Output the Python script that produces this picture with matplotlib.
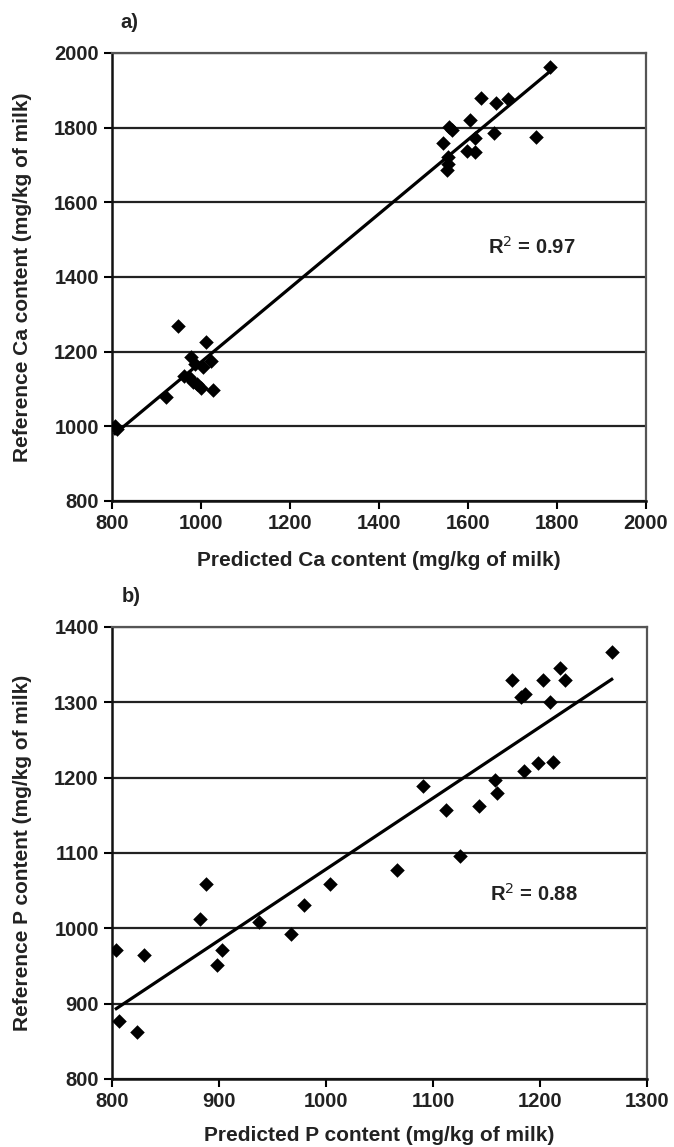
import matplotlib.pyplot as plt
import numpy as np

plt.rcParams['font.family'] = ['Liberation Sans', 'DejaVu Sans']

# Panel a: Ca (mg/kg of milk)
ca_pred = [1784, 1629, 1663, 1691, 1605, 1558, 1563, 1658, 1544, 1615, 1753,
           1597, 1615, 1554, 1556, 1552,
           949, 1012, 977, 987, 1004, 1022, 962, 973, 981, 992, 1000, 1028,
           921, 807, 812]
ca_ref = [1963, 1879, 1866, 1878, 1821, 1802, 1794, 1787, 1758, 1772, 1775,
          1737, 1734, 1722, 1703, 1687,
          1268, 1225, 1187, 1168, 1159, 1175, 1135, 1133, 1118, 1114, 1104, 1097,
          1078, 1000, 992]

# Panel b: P (mg/kg of milk)
p_pred = [1267, 1174, 1203, 1219, 1223, 1182, 1186, 1209, 1212, 1198, 1185,
          1158, 1160, 1143, 1112, 1091, 1125, 1066, 1004, 979, 967, 937,
          888, 882, 903, 898, 830, 804, 807, 823]
p_ref = [1367, 1330, 1329, 1345, 1329, 1307, 1311, 1301, 1221, 1220, 1209,
         1197, 1180, 1162, 1157, 1189, 1096, 1077, 1059, 1031, 993, 1008,
         1059, 1012, 971, 951, 964, 971, 877, 863]


def panel(ax, x, y, xlim, xticks, ylim, yticks, r2, r2_pos, xlabel, ylabel,
          ylab_x, xlab_y):
    x = np.array(x)
    y = np.array(y)
    ax.set_axisbelow(True)
    ax.grid(axis='y', color='#222222', lw=1.6)
    ax.scatter(x, y, marker='D', s=55, color='black', zorder=3, lw=0)
    k, b = np.polyfit(x, y, 1)
    xs = np.array([x.min(), x.max()])
    ax.plot(xs, k * xs + b, color='black', lw=2.3, zorder=4)
    ax.set_xlim(*xlim)
    ax.set_ylim(*ylim)
    ax.set_xticks(xticks)
    ax.set_yticks(yticks)
    for s in ['top', 'right']:
        ax.spines[s].set_color('#555555')
        ax.spines[s].set_linewidth(1.6)
    for s in ['left', 'bottom']:
        ax.spines[s].set_color('#111111')
        ax.spines[s].set_linewidth(1.8)
    ax.tick_params(direction='out', length=5.5, width=1.5, labelsize=14.5,
                   pad=4)
    for lab in ax.get_xticklabels() + ax.get_yticklabels():
        lab.set_fontweight('bold')
        lab.set_color('#222222')
    ax.text(r2_pos[0], r2_pos[1], r2, ha='center', va='center',
            fontsize=14.5, fontweight='bold', color='#222222')
    ax.set_xlabel(xlabel, fontsize=15, fontweight='bold', color='#222222',
                  va='center')
    ax.set_ylabel(ylabel, fontsize=15, fontweight='bold', color='#222222',
                  va='center')
    ax.xaxis.set_label_coords(0.5, xlab_y)
    ax.yaxis.set_label_coords(ylab_x, 0.5)


fig = plt.figure(figsize=(6.74, 11.47), dpi=100)
ax1 = fig.add_axes([112 / 674, 1 - 501 / 1147, 534 / 674, 448 / 1147])
ax2 = fig.add_axes([112 / 674, 1 - 1079 / 1147, 535 / 674, 452 / 1147])

panel(ax1, ca_pred, ca_ref, (800, 2000), np.arange(800, 2001, 200),
      (800, 2000), np.arange(800, 2001, 200), 'R$^2$ = 0.97', (1744, 1480),
      'Predicted Ca content (mg/kg of milk)',
      'Reference Ca content (mg/kg of milk)', -0.168, -0.132)
panel(ax2, p_pred, p_ref, (800, 1300), np.arange(800, 1301, 100),
      (800, 1400), np.arange(800, 1401, 100), 'R$^2$ = 0.88', (1194, 1046),
      'Predicted P content (mg/kg of milk)',
      'Reference P content (mg/kg of milk)', -0.168, -0.124)

fig.text(120 / 674, 1 - 23 / 1147, 'a)', fontsize=14.5, fontweight='bold',
         va='center', color='#222222')
fig.text(122 / 674, 1 - 597 / 1147, 'b)', fontsize=14.5, fontweight='bold',
         va='center', color='#222222')

fig.savefig('out.png', dpi=100)
